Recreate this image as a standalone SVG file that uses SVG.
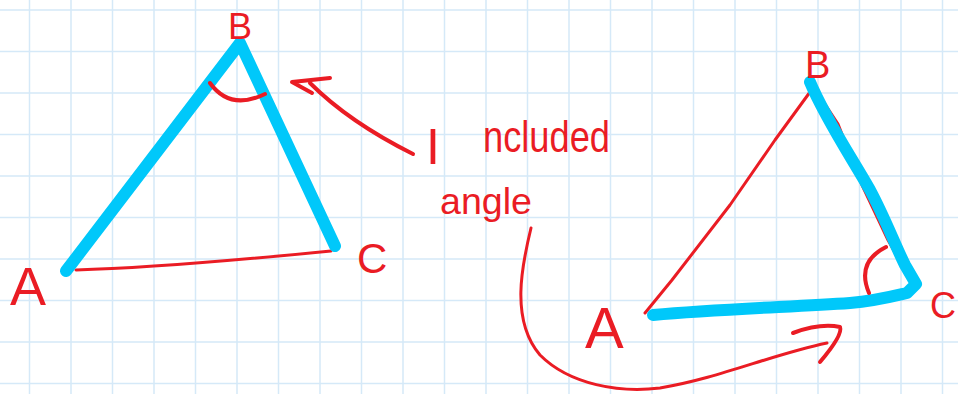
<svg xmlns="http://www.w3.org/2000/svg" width="958" height="394" viewBox="0 0 958 394">
<style>
.grid{stroke:#d5e9f8;stroke-width:1.5;fill:none}
.blue{stroke:#00c8fa;stroke-width:12;fill:none;stroke-linecap:round;stroke-linejoin:round}
.red{stroke:#ea1c24;stroke-width:3;fill:none;stroke-linecap:round;stroke-linejoin:round}
.redb{stroke:#ea1c24;stroke-width:4;fill:none;stroke-linecap:round;stroke-linejoin:round}
.lbl{fill:#ea1c24;font-family:"Liberation Sans",Arial,sans-serif}
</style>
<rect width="958" height="394" fill="#ffffff"/>
<path class="grid" d="M29.5,0V394M71,0V394M112.5,0V394M154,0V394M195.5,0V394M237,0V394M278.5,0V394M320,0V394M361.5,0V394M403,0V394M444.5,0V394M486,0V394M527.5,0V394M569,0V394M610.5,0V394M652,0V394M693.5,0V394M735,0V394M776.5,0V394M818,0V394M859.5,0V394M901,0V394M942.5,0V394M0,10H958M0,51.5H958M0,93H958M0,134.5H958M0,176H958M0,217.5H958M0,259H958M0,300.5H958M0,342H958M0,383.5H958"/>

<g id="triangle-left">
  <path class="red" d="M76,270 C150,268 250,259 331,251"/>
  <path class="blue" d="M66,271 L240,43 L335,246"/>
  <path class="redb" d="M210,83 Q230,111 265,94"/>
</g>
<g id="label-left-A"><text class="lbl" x="10" y="305" font-size="54">A</text></g>
<g id="label-left-B"><text class="lbl" x="228" y="39" font-size="36">B</text></g>
<g id="label-left-C"><text class="lbl" x="357" y="273" font-size="42">C</text></g>

<g id="triangle-right">
  <path class="red" d="M645,313 L672,280 L730,205 L775,140 L810,92"/>
  <path class="red" d="M813,86 L838,124 L862,185 L888,240 L912,283"/>
  <path class="blue" d="M810,82 C825,118 850,155 870,190 C885,218 895,245 905,265 L916,284 L907,293 C890,297 875,301 850,303 C790,307 720,309 653,315"/>
  <path class="redb" d="M886,247 Q856,262 869,293"/>
</g>
<g id="label-right-A"><text class="lbl" x="585" y="348" font-size="58">A</text></g>
<g id="label-right-B"><text class="lbl" x="805" y="78" font-size="38">B</text></g>
<g id="label-right-C"><text class="lbl" x="930" y="318" font-size="36">C</text></g>

<g id="label-included-angle">
  <text class="lbl" x="426" y="164" font-size="50">I<tspan x="483" y="152" font-size="44" textLength="127" lengthAdjust="spacingAndGlyphs">ncluded</tspan></text>
  <text class="lbl" x="440" y="214" font-size="36" textLength="92" lengthAdjust="spacingAndGlyphs">angle</text>
</g>

<g id="connectors">
  <path class="redb" d="M413,154 C385,140 345,118 310,83"/>
  <path class="redb" d="M330,78 L292,82 L312,93"/>
  <path class="red" d="M531,228 C522,265 510,320 540,355 C570,385 620,393 660,388 C720,378 770,355 827,343"/>
  <path class="redb" d="M793,333 Q820,323 840,327 Q843,335 820,362"/>
</g>
</svg>
